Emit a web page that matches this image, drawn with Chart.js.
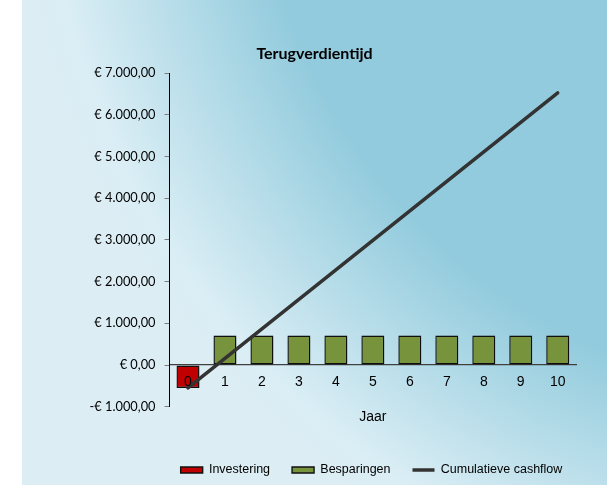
<!DOCTYPE html>
<html><head><meta charset="utf-8">
<script src="https://cdn.jsdelivr.net/npm/chart.js@4.4.0/dist/chart.umd.min.js"></script>
<style>html,body{margin:0;padding:0;background:#fff;overflow:hidden}canvas{display:block}</style>
</head><body>
<canvas id="c" width="607" height="485"></canvas>
<script>
const categories = ['0','1','2','3','4','5','6','7','8','9','10'];
const investering = [-550, null, null, null, null, null, null, null, null, null, null];
const besparingen = [null, 708, 708, 708, 708, 708, 708, 708, 708, 708, 708];
const cumulatief = [-550, 158, 866, 1574, 2282, 2990, 3698, 4406, 5114, 5822, 6530];
const yTickValues = [-1000, 0, 1000, 2000, 3000, 4000, 5000, 6000, 7000];
const yTickLabels = ['-€ 1.000,00', '€ 0,00', '€ 1.000,00', '€ 2.000,00', '€ 3.000,00', '€ 4.000,00', '€ 5.000,00', '€ 6.000,00', '€ 7.000,00'];

const bgPlugin = {
  id: 'bg',
  beforeDraw(chart) {
    const ctx = chart.ctx;
    ctx.save();
    ctx.fillStyle = '#ffffff';
    ctx.fillRect(0, 0, chart.width, chart.height);
    const g = ctx.createRadialGradient(831, -177, 0, 831, -177, 820);
    g.addColorStop(0, '#92cbdd');
    g.addColorStop(0.70, '#92cbdd');
    g.addColorStop(0.96, '#dbeef5');
    g.addColorStop(1, '#dcedf4');
    ctx.fillStyle = g;
    ctx.fillRect(22, 0, chart.width - 22, chart.height);
    ctx.restore();
  }
};
const shadowPlugin = {
  id: 'barShadow',
  beforeDatasetDraw(chart, args) {
    if (chart.data.datasets[args.index].type === 'bar') {
      const ctx = chart.ctx;
      ctx.save();
      ctx.shadowColor = 'rgba(0,0,0,0.28)';
      ctx.shadowBlur = 4;
      ctx.shadowOffsetX = 1;
      ctx.shadowOffsetY = 2;
    }
  },
  afterDatasetDraw(chart, args) {
    if (chart.data.datasets[args.index].type === 'bar') chart.ctx.restore();
  }
};
const legendShift = {
  id: 'legendShift',
  afterLayout(chart) {
    const lg = chart.legend;
    if (!lg) return;
    const dx = 371.5 - (lg.left + lg.right) / 2;
    lg.left += dx;
    lg.right += dx;
  }
};

new Chart(document.getElementById('c'), {
  data: {
    labels: categories,
    datasets: [
      { type: 'bar', label: 'Investering', data: investering, backgroundColor: '#c00000', borderColor: '#111111', borderWidth: 1.4, borderSkipped: false, grouped: false, barPercentage: 0.62, categoryPercentage: 1, order: 1, pointStyle: 'rect' },
      { type: 'bar', label: 'Besparingen', data: besparingen, backgroundColor: '#77933c', borderColor: '#111111', borderWidth: 1.4, borderSkipped: false, grouped: false, barPercentage: 0.62, categoryPercentage: 1, order: 1, pointStyle: 'rect' },
      { type: 'line', label: 'Cumulatieve cashflow', data: cumulatief, borderColor: '#333333', backgroundColor: '#333333', borderWidth: 3.5, borderCapStyle: 'round', pointRadius: 0, pointStyle: 'line', tension: 0, order: 0 }
    ]
  },
  options: {
    responsive: false,
    animation: false,
    layout: { padding: { left: 22, right: 0, top: 0, bottom: 0 } },
    plugins: {
      tooltip: { enabled: false },
      title: {
        display: true, text: 'Terugverdientijd', color: '#000000',
        font: { family: 'Lato', size: 16, weight: 'bold' },
        padding: { top: 44.5, bottom: 9.5 }
      },
      legend: {
        position: 'bottom', fullSize: true, maxHeight: 43.25,
        labels: {
          usePointStyle: true, pointStyleWidth: 22,
          boxWidth: 22, boxHeight: 6, padding: 22, color: '#000000',
          font: { family: 'Liberation Sans', size: 12.5 },
          sort: (a, b) => a.datasetIndex - b.datasetIndex
        }
      }
    },
    scales: {
      x: {
        type: 'category', position: { y: 0 }, offset: true,
        grid: { display: false, drawTicks: false },
        border: { display: true, color: '#404040', width: 1.2 },
        ticks: { z: 1, color: '#000000', padding: 9, font: { family: 'Liberation Sans', size: 14 } }
      },
      x2: {
        type: 'category', position: 'bottom', offset: true,
        grid: { display: false, drawTicks: false }, border: { display: false },
        ticks: { display: false },
        title: { display: true, text: 'Jaar', color: '#000000', font: { family: 'Liberation Sans', size: 14 }, padding: { top: 2.4, bottom: 15.85 } }
      },
      y: {
        type: 'linear', position: 'left', min: -1000, max: 7000,
        afterBuildTicks: s => { s.ticks = yTickValues.map(v => ({ value: v })); },
        afterFit: s => { s.width = 147.5; },
        grid: { display: true, drawOnChartArea: false, drawTicks: true, tickLength: 5, color: '#7f7f7f' },
        border: { display: true, color: '#000000', width: 1 },
        ticks: {
          color: '#000000', padding: 9, font: { family: 'Lato', size: 12.8 },
          callback: (v) => yTickLabels[yTickValues.indexOf(v)]
        }
      },
      y2: {
        type: 'linear', position: 'right', display: true, min: 0, max: 1,
        grid: { display: false, drawTicks: false }, border: { display: false }, ticks: { display: false },
        afterFit: s => { s.width = 30.8; }
      }
    }
  },
  plugins: [bgPlugin, shadowPlugin, legendShift]
});
</script>
</body></html>
